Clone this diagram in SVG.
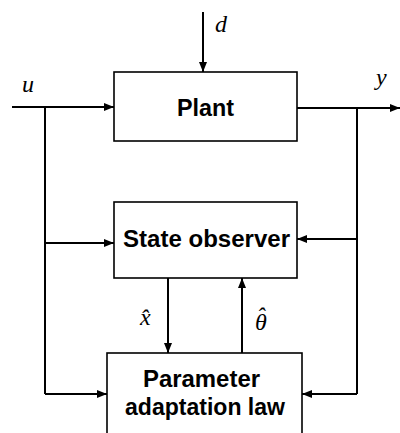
<svg xmlns="http://www.w3.org/2000/svg" width="400" height="433" viewBox="0 0 400 433">
<style>
.box{fill:#fff;stroke:#000;stroke-width:1.6}
.ln{fill:none;stroke:#000;stroke-width:2}
.lbl{font-family:"Liberation Sans",Arial,sans-serif;font-weight:bold;font-size:23px;fill:#000;text-anchor:middle}
.m{font-family:"Liberation Serif","Times New Roman",serif;font-style:italic;font-size:24px;fill:#000}
</style>
<defs>
<marker id="ah" viewBox="0 0 10 8" refX="10" refY="4" markerWidth="10" markerHeight="8" markerUnits="userSpaceOnUse" orient="auto">
<path d="M0,0 L10,4 L0,8 Z" fill="#000"/>
</marker>
</defs>
<rect width="400" height="433" fill="#fff"/>
<g id="connectors">
<path class="ln" d="M203,12 V72" marker-end="url(#ah)"/>
<path class="ln" d="M12,107 H114" marker-end="url(#ah)"/>
<path class="ln" d="M297,108 H400" marker-end="url(#ah)"/>
<path class="ln" d="M45,107 V394"/>
<path class="ln" d="M357,108 V394"/>
<path class="ln" d="M45,243 H114" marker-end="url(#ah)"/>
<path class="ln" d="M357,239 H297" marker-end="url(#ah)"/>
<path class="ln" d="M45,394 H107" marker-end="url(#ah)"/>
<path class="ln" d="M357,394 H302" marker-end="url(#ah)"/>
<path class="ln" d="M168,278 V353" marker-end="url(#ah)"/>
<path class="ln" d="M242,353 V278" marker-end="url(#ah)"/>
</g>
<g id="plant">
<rect class="box" x="114" y="72" width="183" height="69"/>
<text class="lbl" x="205.5" y="116" textLength="57" lengthAdjust="spacingAndGlyphs">Plant</text>
</g>
<g id="observer">
<rect class="box" x="114" y="202" width="183" height="76"/>
<text class="lbl" x="206.5" y="247" textLength="167" lengthAdjust="spacingAndGlyphs">State observer</text>
</g>
<g id="adaptation">
<rect class="box" x="107" y="353" width="195" height="90"/>
<text class="lbl" x="201.5" y="387" textLength="117" lengthAdjust="spacingAndGlyphs">Parameter</text>
<text class="lbl" x="205" y="415" textLength="160" lengthAdjust="spacingAndGlyphs">adaptation law</text>
</g>
<g id="labels">
<text class="m" x="215" y="32">d</text>
<text class="m" x="22" y="92">u</text>
<text class="m" x="376" y="85">y</text>
<text class="m" x="140" y="325">x̂</text>
<text class="m" x="255" y="330">θ<tspan dx="-10" dy="-6">ˆ</tspan></text>
</g>
</svg>
